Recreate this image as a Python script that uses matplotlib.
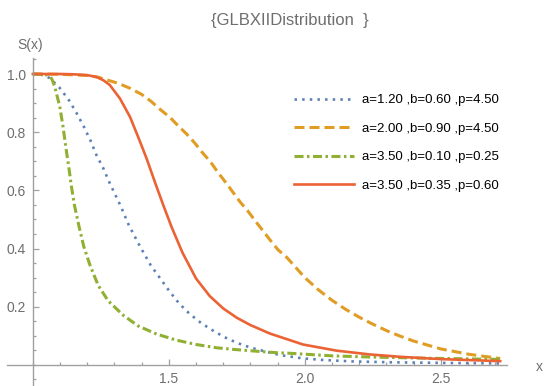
import numpy as np
import matplotlib.pyplot as plt
from matplotlib.ticker import MultipleLocator, FixedLocator

plt.rcParams['font.family'] = ['Liberation Sans', 'DejaVu Sans']
plt.rcParams['lines.scale_dashes'] = False

# survival curves
x_blue = [1.0, 1.03, 1.062, 1.097, 1.132, 1.16, 1.1875, 1.212, 1.234, 1.259, 1.283, 1.32,
          1.354, 1.393, 1.433, 1.47, 1.504, 1.538, 1.577, 1.62, 1.669, 1.718, 1.767, 1.81,
          1.86, 1.908, 1.988, 2.066, 2.176, 2.32, 2.5, 2.718]
y_blue = [1.0, 0.998, 0.986, 0.954, 0.911, 0.867, 0.819, 0.771, 0.721, 0.676, 0.624, 0.552,
          0.478, 0.409, 0.343, 0.295, 0.251, 0.211, 0.175, 0.143, 0.114, 0.089, 0.070, 0.057,
          0.045, 0.034, 0.023, 0.017, 0.012, 0.009, 0.007, 0.005]

x_orange = [1.0, 1.1, 1.2, 1.24, 1.271, 1.314, 1.357, 1.4, 1.436, 1.467, 1.504, 1.534, 1.565,
            1.596, 1.624, 1.653, 1.681, 1.71, 1.736, 1.763, 1.792, 1.82, 1.847, 1.874, 1.902,
            1.933, 2.0, 2.05, 2.1, 2.15, 2.2, 2.25, 2.3, 2.35, 2.4, 2.5, 2.6, 2.718]
y_orange = [1.0, 0.999, 0.995, 0.989, 0.98, 0.968, 0.951, 0.93, 0.905, 0.879, 0.851, 0.822, 0.794,
            0.762, 0.729, 0.698, 0.661, 0.626, 0.593, 0.559, 0.527, 0.492, 0.46, 0.427, 0.395,
            0.37, 0.30, 0.258, 0.222, 0.191, 0.164, 0.14, 0.118, 0.099, 0.082, 0.055, 0.037, 0.022]

x_green = [1.0, 1.03, 1.05, 1.065, 1.072, 1.081, 1.099, 1.111, 1.121, 1.132, 1.142, 1.154, 1.17,
           1.1875, 1.21, 1.24, 1.277, 1.332, 1.387, 1.455, 1.528, 1.602, 1.675, 1.743, 1.81,
           1.896, 1.945, 2.104, 2.251, 2.45, 2.718]
y_green = [1.0, 0.999, 0.997, 0.99, 0.978, 0.955, 0.888, 0.819, 0.75, 0.681, 0.612, 0.544, 0.475,
           0.406, 0.343, 0.274, 0.22, 0.171, 0.134, 0.106, 0.085, 0.070, 0.059, 0.053, 0.048,
           0.042, 0.04, 0.031, 0.027, 0.023, 0.019]

x_red = [1.0, 1.1, 1.15, 1.2, 1.234, 1.26, 1.283, 1.32, 1.357, 1.387, 1.418, 1.45, 1.48, 1.51,
         1.55, 1.6, 1.65, 1.7, 1.75, 1.8, 1.871, 1.994, 2.117, 2.239, 2.349, 2.5, 2.718]
y_red = [1.0, 1.0, 0.999, 0.996, 0.99, 0.978, 0.962, 0.916, 0.853, 0.784, 0.71, 0.625, 0.548, 0.474,
         0.386, 0.297, 0.237, 0.194, 0.162, 0.137, 0.108, 0.07, 0.049, 0.036, 0.028, 0.020, 0.013]

labels = ["a=1.20 ,b=0.60 ,p=4.50",
          "a=2.00 ,b=0.90 ,p=4.50",
          "a=3.50 ,b=0.10 ,p=0.25",
          "a=3.50 ,b=0.35 ,p=0.60"]

GRAY = "#6e6e6e"
AXC = "#a0a0a0"

fig = plt.figure(figsize=(5.44, 3.86), dpi=100)
ax = fig.add_axes([7/544, 1 - 385/386, 500/544, (385 - 58)/386])

ax.plot(x_blue, y_blue, color="#5E81B5", lw=1.9, linestyle=(0, (1.8, 3.7)), label=labels[0])
ax.plot(x_orange, y_orange, color="#E19C24", lw=2.2, linestyle=(0, (7.2, 3.6)), label=labels[1])
ax.plot(x_green, y_green, color="#8FB032", lw=2.2, linestyle=(0, (6.5, 2.5, 1.8, 2.5)), label=labels[2])
ax.plot(x_red, y_red, color="#EB6235", lw=1.9, label=labels[3])

ax.set_xlim(0.905, 2.743)
ax.set_ylim(-0.069, 1.055)

for s in ["top", "right"]:
    ax.spines[s].set_visible(False)
ax.spines["left"].set_position(("data", 1.0))
ax.spines["bottom"].set_position(("data", 0.0))
for s in ["left", "bottom"]:
    ax.spines[s].set_color(AXC)
    ax.spines[s].set_linewidth(1.0)

ax.xaxis.set_major_locator(FixedLocator([1.5, 2.0, 2.5]))
ax.xaxis.set_minor_locator(MultipleLocator(0.1))
ax.set_xticklabels(["1.5", "2.0", "2.5"])
ax.yaxis.set_major_locator(FixedLocator([0.2, 0.4, 0.6, 0.8, 1.0]))
ax.yaxis.set_minor_locator(MultipleLocator(0.05))
ax.set_yticklabels(["0.2", "0.4", "0.6", "0.8", "1.0"])
ax.tick_params(which="both", direction="in", color=AXC, width=0.9, labelcolor=GRAY, labelsize=10)
ax.tick_params(which="major", length=4.3, pad=5)
ax.tick_params(which="minor", length=2.5)
ax.patch.set_alpha(0)

fig.text(290/544, 1 - 20/386, "{GLBXIIDistribution  }", ha="center", va="center", color=GRAY, fontsize=12)
fig.text(30/544, 1 - 45/386, "S(x)", ha="center", va="center", color=GRAY, fontsize=10)
fig.text(536/544, 1 - 367/386, "x", ha="left", va="center", color=GRAY, fontsize=10)

ax.legend(loc="upper left", bbox_to_anchor=(294/544, 1 - 94/386), bbox_transform=fig.transFigure,
          frameon=False, fontsize=9.5, handlelength=4.55, handletextpad=0.6, labelspacing=1.23,
          borderpad=0, borderaxespad=0)

fig.savefig("out.png", dpi=100)
